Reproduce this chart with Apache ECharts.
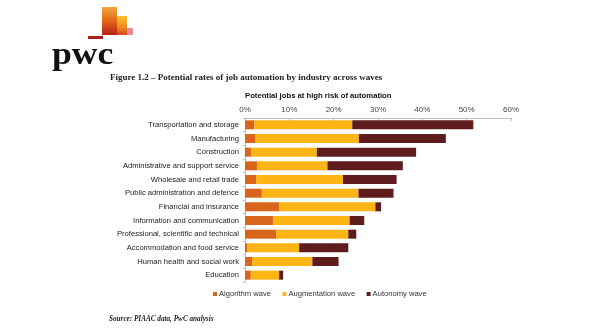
<!DOCTYPE html>
<html>
<head>
<meta charset="utf-8">
<script src="https://cdn.jsdelivr.net/npm/echarts@6/dist/echarts.min.js"></script>
<style>
html,body{margin:0;padding:0;background:#fff;}
#c{width:600px;height:328px;}
</style>
</head>
<body>
<div id="c"></div>
<script>
const categories = [
  'Transportation and storage',
  'Manufacturing',
  'Construction',
  'Administrative and support service',
  'Wholesale and retail trade',
  'Public administration and defence',
  'Financial and insurance',
  'Information and communication',
  'Professional, scientific and technical',
  'Accommodation and food service',
  'Human health and social work',
  'Education'
];
const algorithmWave    = [2.1, 2.4, 1.4, 2.7, 2.5, 3.8, 7.7, 6.3, 7.0, 0.45, 1.6, 1.3];
const augmentationWave = [22.1, 23.3, 14.8, 15.9, 19.6, 21.8, 21.7, 17.3, 16.3, 11.75, 13.6, 6.4];
const autonomyWave     = [27.3, 19.6, 22.4, 17.0, 12.1, 7.9, 1.3, 3.3, 1.8, 11.1, 5.9, 0.9];
const seriesNames = ['Algorithm wave', 'Augmentation wave', 'Autonomy wave'];
const xTicks = [0, 10, 20, 30, 40, 50, 60];

const colors = ['#D8651B', '#FDB516', '#5F1C1C'];
const chart = echarts.init(document.getElementById('c'));
const sans = 'Liberation Sans, Arial, sans-serif';
const serif = 'Liberation Serif, Times New Roman, serif';

chart.setOption({
  animation: false,
  color: colors,
  grid: { left: 245, right: 89, top: 118, bottom: 46, containLabel: false },
  xAxis: {
    type: 'value',
    position: 'top',
    min: xTicks[0],
    max: xTicks[xTicks.length - 1],
    interval: 10,
    axisLine: { show: true, lineStyle: { color: '#bdbdbd', width: 1 } },
    axisTick: { show: true, inside: true, length: 3, lineStyle: { color: '#bdbdbd' } },
    axisLabel: { formatter: '{value}%', fontSize: 8, color: '#444', fontFamily: sans, margin: 4 },
    splitLine: { show: false }
  },
  yAxis: {
    type: 'category',
    inverse: true,
    data: categories,
    axisLine: { show: true, lineStyle: { color: '#bdbdbd', width: 1 } },
    axisTick: { show: true, length: 2, lineStyle: { color: '#bdbdbd' } },
    axisLabel: { fontSize: 7.6, color: '#222', fontFamily: sans, margin: 6 }
  },
  legend: {
    data: seriesNames,
    left: 213,
    top: 290,
    padding: 0,
    icon: 'rect',
    itemWidth: 4,
    itemHeight: 4,
    itemGap: 11.5,
    textStyle: { fontSize: 7.6, color: '#333', fontFamily: sans, padding: [0, 0, 0, -3] }
  },
  series: [
    { name: seriesNames[0], type: 'bar', stack: 'w', data: algorithmWave, barWidth: 9 },
    { name: seriesNames[1], type: 'bar', stack: 'w', data: augmentationWave, barWidth: 9 },
    { name: seriesNames[2], type: 'bar', stack: 'w', data: autonomyWave, barWidth: 9 }
  ],
  graphic: [
    { type: 'rect', shape: { x: 102, y: 7, width: 15, height: 28 },
      style: { fill: new echarts.graphic.LinearGradient(0, 0, 0, 1, [
        { offset: 0, color: '#F4A53A' }, { offset: 0.5, color: '#E2661A' }, { offset: 1, color: '#B52218' }]) } },
    { type: 'rect', shape: { x: 117, y: 16, width: 10, height: 19 },
      style: { fill: new echarts.graphic.LinearGradient(0, 0, 0, 1, [
        { offset: 0, color: '#FBC02D' }, { offset: 0.6, color: '#F08A1E' }, { offset: 1, color: '#D9461F' }]) } },
    { type: 'rect', shape: { x: 127, y: 28, width: 6, height: 7 }, style: { fill: '#E88A9A' } },
    { type: 'rect', shape: { x: 88, y: 36, width: 15, height: 3 }, style: { fill: '#B0201A' } },
    { type: 'text', x: 52, y: 71, scaleX: 1.15,
      style: { text: 'pwc', font: 'bold 31px ' + serif, fill: '#111', verticalAlign: 'bottom' } },
    { type: 'text', left: 110, top: 73,
      style: { text: 'Figure 1.2 \u2013 Potential rates of job automation by industry across waves',
        font: 'bold 9px ' + serif, fill: '#222' } },
    { type: 'text', left: 245, top: 91.5,
      style: { text: 'Potential jobs at high risk of automation', font: 'bold 7.7px ' + sans, fill: '#111' } },
    { type: 'text', left: 109, top: 316,
      style: { text: 'Source: PIAAC data, PwC analysis', font: 'italic bold 7.2px ' + serif, fill: '#222' } }
  ]
});
</script>
</body>
</html>
